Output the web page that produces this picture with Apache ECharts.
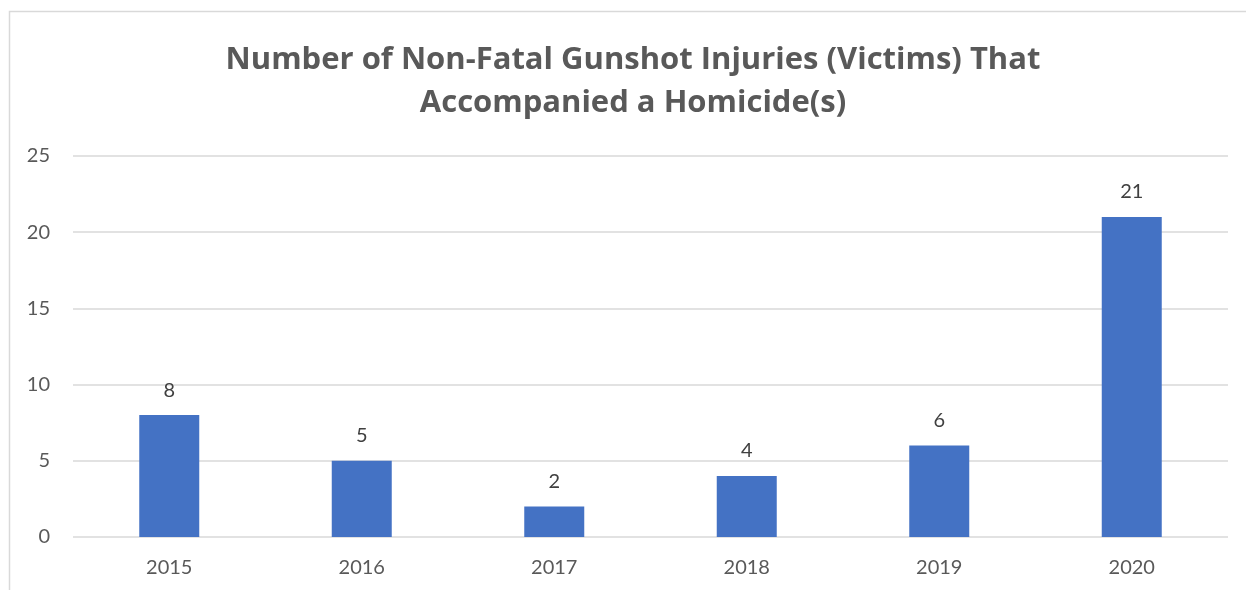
<!DOCTYPE html>
<html lang="en">
<head>
    <meta charset="UTF-8">
    <title>Non-Fatal Gunshot Injuries</title>
    <style>
        html, body { margin: 0; padding: 0; background: #fff; }
        #chartContainer { width: 1246px; height: 590px; }
    </style>
    <script src="https://cdnjs.cloudflare.com/ajax/libs/echarts/6.0.0/echarts.min.js"></script>
</head>
<body>
    <div id="chartContainer"></div>
    <script>
        const years = ['2015', '2016', '2017', '2018', '2019', '2020'];
        const victims = [8, 5, 2, 4, 6, 21];
        const yTicks = [0, 5, 10, 15, 20, 25];

        const chartDom = document.getElementById('chartContainer');
        const myChart = echarts.init(chartDom);

        const font = 'Lato, "Open Sans", sans-serif';

        const option = {
            animation: false,
            backgroundColor: '#fff',
            graphic: [{
                // chart area border (cut off on the right and bottom)
                type: 'polyline',
                silent: true,
                shape: { points: [[9.5, 600], [9.5, 11.5], [1250, 11.5]] },
                style: { stroke: '#d9d9d9', lineWidth: 1.5, fill: null }
            }],
            title: {
                text: 'Number of Non-Fatal Gunshot Injuries (Victims) That\nAccompanied a Homicide(s)',
                left: 633,
                textAlign: 'center',
                top: 39,
                padding: 0,
                textStyle: {
                    fontFamily: '"Open Sans", sans-serif',
                    fontWeight: 'bold',
                    fontSize: 31,
                    lineHeight: 43,
                    color: '#595959'
                }
            },
            grid: { left: 73, right: 18, top: 156, bottom: 53 },
            xAxis: {
                type: 'category',
                data: years,
                axisLine: { show: false },
                axisTick: { show: false },
                axisLabel: {
                    margin: 21,
                    fontFamily: font,
                    fontSize: 20,
                    color: '#595959'
                }
            },
            yAxis: {
                type: 'value',
                min: yTicks[0],
                max: yTicks[yTicks.length - 1],
                interval: 5,
                axisLine: { show: false },
                axisTick: { show: false },
                splitLine: { lineStyle: { color: '#d9d9d9', width: 1.5 } },
                axisLabel: {
                    margin: 23,
                    fontFamily: font,
                    fontSize: 20,
                    color: '#595959'
                }
            },
            series: [{
                type: 'bar',
                data: victims,
                barWidth: 60,
                itemStyle: { color: '#4472c4' },
                label: {
                    show: true,
                    position: 'top',
                    distance: 15,
                    fontFamily: font,
                    fontSize: 20,
                    color: '#404040'
                }
            }]
        };

        myChart.setOption(option);
    </script>
</body>
</html>
